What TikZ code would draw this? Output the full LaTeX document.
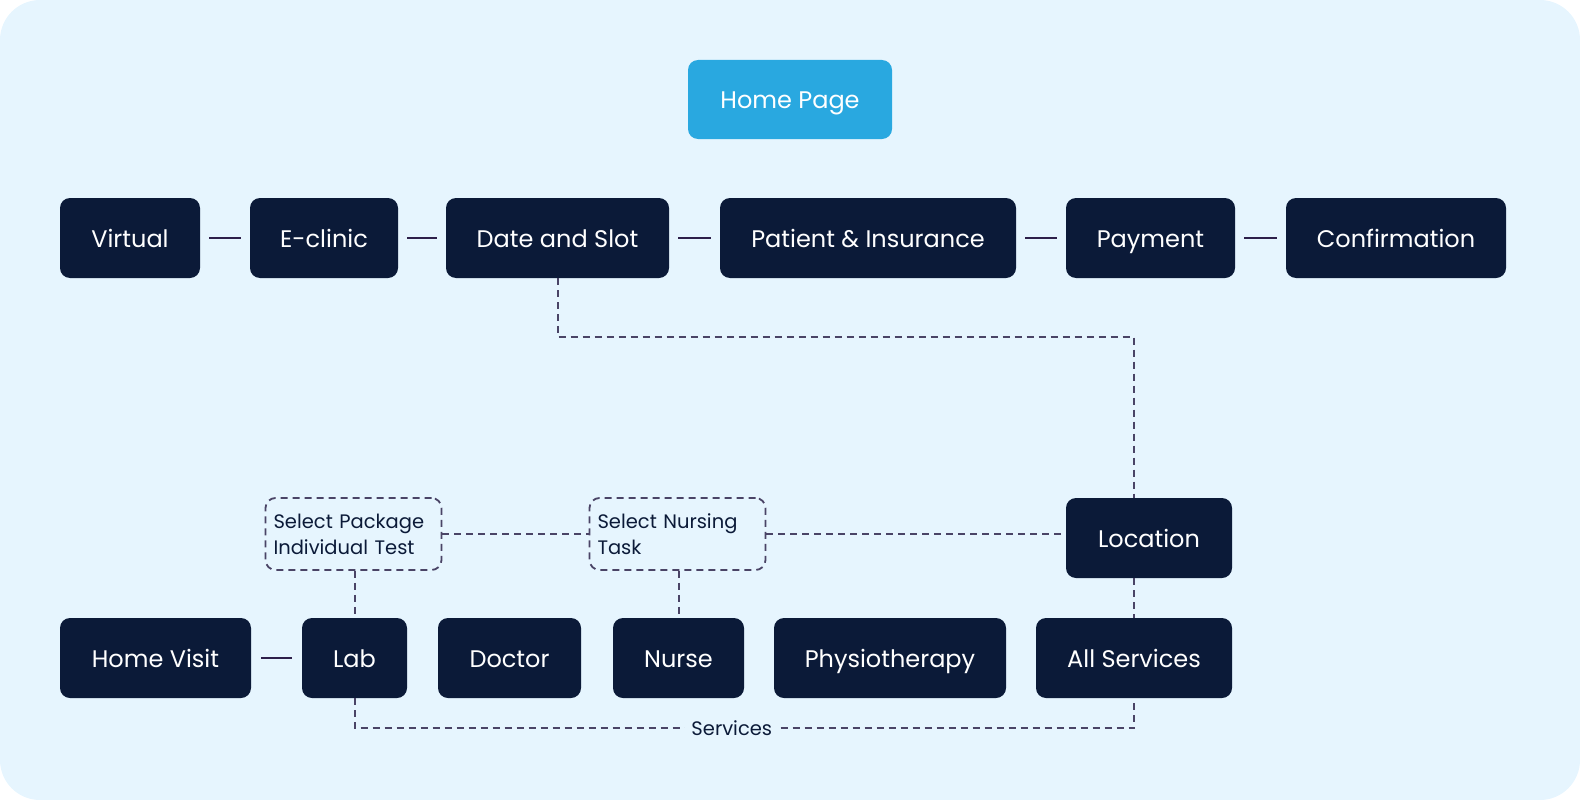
\documentclass[tikz,border=0pt]{standalone}
\usepackage{fontspec}
\setmainfont{Poppins}
\usetikzlibrary{positioning}

\definecolor{bgblue}{HTML}{E6F5FE}
\definecolor{navy}{HTML}{0B1A38}
\definecolor{sky}{HTML}{29A8E0}
\definecolor{dashgray}{HTML}{4A4466}
\definecolor{linepurple}{HTML}{2D1F4A}

\tikzstyle{process} = [rectangle, rounded corners=10pt, minimum height=80pt, inner sep=0pt, text height=18pt, text depth=0pt, text centered, fill=navy, text=white, font=\fontsize{24}{28}\selectfont]
\tikzstyle{homepage} = [process, fill=sky, minimum height=79pt]
\tikzstyle{choice} = [rectangle, rounded corners=10pt, minimum height=72pt, inner xsep=8pt, inner ysep=0pt, text width=160pt, align=left, draw=dashgray, line width=1.8pt, dash pattern=on 7pt off 5pt, text=navy, font=\fontsize{19.5}{26}\selectfont]
\tikzstyle{link} = [line width=2pt, draw=linepurple, shorten <=9pt, shorten >=9pt]
\tikzstyle{dashlink} = [line width=2pt, draw=dashgray, dash pattern=on 7pt off 5pt]

\begin{document}
\begin{tikzpicture}[x=1pt, y=-1pt, node distance=100pt]

  \fill[bgblue, rounded corners=40pt] (0,0) rectangle (1580,800);

  \node (home) [homepage, minimum width=204pt] at (790,99.5) {Home Page};

  % --- top row --- %
  \node (virtual) [process, minimum width=140pt] at (130,238) {Virtual};
  \node (eclinic) [process, minimum width=148pt, right of=virtual, xshift=94pt] {E-clinic};
  \node (slot) [process, minimum width=223pt, right of=eclinic, xshift=133.5pt] {Date and Slot};
  \node (patient) [process, minimum width=296pt, right of=slot, xshift=210.5pt] {Patient \& Insurance};
  \node (payment) [process, minimum width=169pt, right of=patient, xshift=182.5pt] {Payment};
  \node (confirm) [process, minimum width=220pt, right of=payment, xshift=145.5pt] {Confirmation};

  % --- bottom row --- %
  \node (homevisit) [process, minimum width=191pt] at (155.5,658) {Home Visit};
  \node (lab) [process, minimum width=105pt, right of=homevisit, xshift=99pt] {Lab};
  \node (doctor) [process, minimum width=143pt, right of=lab, xshift=55pt] {Doctor};
  \node (nurse) [process, minimum width=131pt, right of=doctor, xshift=69pt] {Nurse};
  \node (physio) [process, minimum width=232pt, right of=nurse, xshift=111.5pt] {Physiotherapy};
  \node (allserv) [process, minimum width=196pt, right of=physio, xshift=144pt] {All Services};

  \node (location) [process, minimum width=166pt, above of=allserv, xshift=15pt, yshift=20pt] {Location};
  \node (package) [choice, above of=lab, xshift=-1pt, yshift=24pt] {Select Package\\Individual Test};
  \node (nursing) [choice, above of=nurse, xshift=-1pt, yshift=24pt] {Select Nursing\\Task};

  % --- %

  \draw [link] (virtual) -- (eclinic);
  \draw [link] (eclinic) -- (slot);
  \draw [link] (slot) -- (patient);
  \draw [link] (patient) -- (payment);
  \draw [link] (payment) -- (confirm);
  \draw [link, shorten <=10pt, shorten >=10pt] (homevisit) -- (lab);

  \draw [dashlink] (slot.south) -- ++(0,59) -| (location.north -| allserv.north);
  \draw [dashlink] (allserv.north |- location.south) -- (allserv.north);
  \draw [dashlink] (package.east) -- (nursing.west);
  \draw [dashlink] (nursing.east) -- ([xshift=-4pt]nursing.east -| location.west);
  \draw [dashlink] (package.south -| lab.north) -- (lab.north);
  \draw [dashlink] (nursing.south -| nurse.north) -- (nurse.north);
  \draw [dashlink] (lab.south) -- ++(0,30) -| node[pos=0.242, fill=bgblue, inner xsep=6pt, text=navy, font=\fontsize{19.5}{22}\selectfont] (services) {Services} (allserv.south);

\end{tikzpicture}
\end{document}
